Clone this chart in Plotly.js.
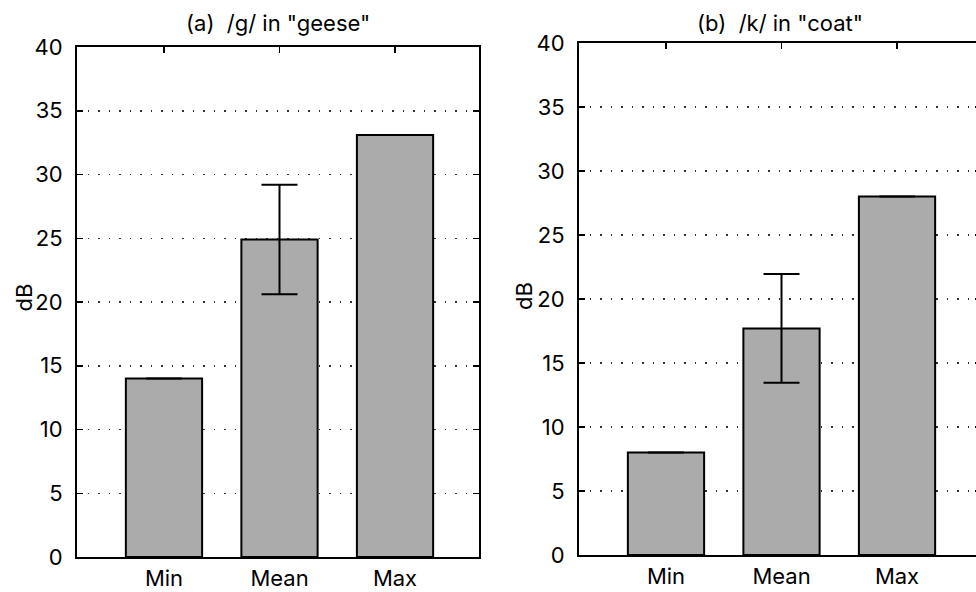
<!DOCTYPE html>
<html>
<head>
<meta charset="utf-8">
<script src="https://cdn.plot.ly/plotly-3.0.1.min.js"></script>
<style>
html,body{margin:0;padding:0;overflow:hidden;background:#fff;}
#chart{width:990px;height:592px;}
</style>
</head>
<body>
<div id="chart"></div>
<script>
// Data
const categories = ["Min", "Mean", "Max"];
const geeseValues = [14.0, 24.9, 33.1];
const geeseErr = [0, 4.3, 0];
const coatValues = [8.0, 17.7, 28.0];
const coatErr = [0, 4.25, 0];
const yTicks = [0, 5, 10, 15, 20, 25, 30, 35, 40];
const titleA = '(a)  /g/ in "geese"';
const titleB = '(b)  /k/ in "coat"';
const yLabel = 'dB';

const W = 990, H = 592;
const FONT = 'Inter, "Liberation Sans", Arial, Helvetica, sans-serif';
const catPos = [0, 1, 2];
const xr = [-0.753, 2.727];

function txt(size) { return {family: FONT, size: size, color: '#000'}; }

function barTrace(vals, errs, xa, ya) {
  return {
    type: 'bar', x: catPos, y: vals, xaxis: xa, yaxis: ya,
    width: 0.66,
    marker: {color: '#ababab', line: {color: '#000', width: 2}},
    error_y: {type: 'data', array: errs, visible: true, color: '#000', thickness: 2, width: 18},
    showlegend: false, hoverinfo: 'skip'
  };
}

function yAxis(dom, anchor) {
  return {
    domain: dom, anchor: anchor, range: [0, 40], tickvals: yTicks, ticktext: yTicks.map(String),
    showline: true, linecolor: '#000', linewidth: 2, mirror: 'ticks',
    ticks: 'inside', ticklen: 6, tickwidth: 1.5, tickcolor: '#000',
    showgrid: true, gridcolor: '#333', gridwidth: 1.5, griddash: '1.5px,9px',
    zeroline: false, fixedrange: true,
    tickfont: txt(22), ticklabelstandoff: 8
  };
}

function xAxis(dom, anchor) {
  return {
    domain: dom, anchor: anchor, range: xr, tickvals: catPos, ticktext: categories,
    showline: true, linecolor: '#000', linewidth: 2, mirror: true,
    ticks: '', showgrid: false, zeroline: false, fixedrange: true,
    tickfont: txt(22), ticklabelstandoff: 1
  };
}

function topAxis(dom, overlay, anchor) {
  return {
    domain: dom, overlaying: overlay, anchor: anchor, side: 'top', range: xr, tickvals: catPos,
    showticklabels: false, ticks: 'inside', ticklen: 6, tickwidth: 1.5, tickcolor: '#000',
    showline: false, showgrid: false, zeroline: false, fixedrange: true
  };
}

const xDomA = [77 / W, 479 / W];
const xDomB = [579 / W, 981 / W];
const yDomA = [(H - 557) / H, (H - 47) / H];
const yDomB = [(H - 555) / H, (H - 43) / H];

const data = [
  barTrace(geeseValues, geeseErr, 'x', 'y'),
  barTrace(coatValues, coatErr, 'x2', 'y2')
];

const layout = {
  width: W, height: H,
  margin: {l: 0, r: 0, t: 0, b: 0},
  paper_bgcolor: '#fff', plot_bgcolor: '#fff',
  font: {family: FONT, color: '#000'},
  xaxis: xAxis(xDomA, 'y'),
  yaxis: yAxis(yDomA, 'x'),
  xaxis2: xAxis(xDomB, 'y2'),
  yaxis2: yAxis(yDomB, 'x2'),
  xaxis3: topAxis(xDomA, 'x', 'y'),
  xaxis4: topAxis(xDomB, 'x2', 'y2'),
  annotations: [
    {text: titleA, x: (xDomA[0] + xDomA[1]) / 2, y: 1 - 22.5 / H, xref: 'paper', yref: 'paper',
     xanchor: 'center', yanchor: 'middle', showarrow: false, font: txt(22)},
    {text: titleB, x: (xDomB[0] + xDomB[1]) / 2, y: 1 - 22.5 / H, xref: 'paper', yref: 'paper',
     xanchor: 'center', yanchor: 'middle', showarrow: false, font: txt(22)},
    {text: yLabel, x: 23.5 / W, y: 1 - 298 / H, xref: 'paper', yref: 'paper', textangle: -90,
     xanchor: 'center', yanchor: 'middle', showarrow: false, font: txt(22)},
    {text: yLabel, x: 524 / W, y: 1 - 296 / H, xref: 'paper', yref: 'paper', textangle: -90,
     xanchor: 'center', yanchor: 'middle', showarrow: false, font: txt(22)}
  ]
};

// Empty traces so the overlay top axes are drawn
data.push({type: 'scatter', x: [], y: [], xaxis: 'x3', yaxis: 'y', showlegend: false, hoverinfo: 'skip'});
data.push({type: 'scatter', x: [], y: [], xaxis: 'x4', yaxis: 'y2', showlegend: false, hoverinfo: 'skip'});

Plotly.newPlot('chart', data, layout, {displayModeBar: false, staticPlot: true});
</script>
</body>
</html>
